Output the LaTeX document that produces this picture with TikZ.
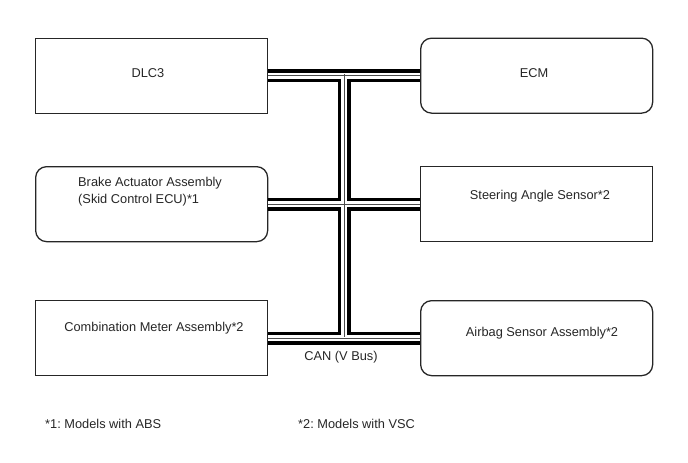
\documentclass[tikz,border=0pt]{standalone}
\usepackage{fontspec}
\setmainfont{Liberation Sans}
\frenchspacing
\begin{document}
\begin{tikzpicture}[x=1pt,y=-1pt,
  box/.style={draw=black!85,line width=1.3pt,minimum width=232pt,minimum height=75pt,inner sep=0pt},
  rbox/.style={box,rounded corners=11pt},
  lbl/.style={font=\fontsize{12.8}{17}\selectfont,text=black!85,inner sep=0pt},
  busout/.style={line width=13pt,black},
  busin/.style={line width=6pt,white},
  busmid/.style={line width=0.7pt,black!70}]
\useasboundingbox (0,0) rectangle (688,463);
\node[box,anchor=north west] (dlc) at (35,37.5) {};
\node[rbox,anchor=north west] (ecm) at (420,37.5) {};
\node[rbox,anchor=north west] (brake) at (35,166) {};
\node[box,anchor=north west] (steer) at (420,166) {};
\node[box,anchor=north west] (comb) at (35,300) {};
\node[rbox,anchor=north west] (air) at (420,300) {};
\node[lbl] (t1) at (148,73) {DLC3};
\node[lbl] (t2) at (534,73) {ECM};
\node[lbl,align=left,anchor=west] (t3) at (78,191.5) {Brake Actuator Assembly\\(Skid Control ECU)*1};
\node[lbl] (t4) at (540,196) {Steering Angle Sensor*2};
\node[lbl] (t5) at (154,328) {Combination Meter Assembly*2};
\node[lbl] (t6) at (542,333) {Airbag Sensor Assembly*2};
\node[lbl] (can) at (341,357) {CAN (V Bus)};
\node[lbl,anchor=west] (n1) at (45,424) {*1: Models with ABS};
\node[lbl,anchor=west] (n2) at (298,424) {*2: Models with VSC};
\coordinate (v1) at (344,74);
\coordinate (v3) at (344,337);
\foreach \s in {busout,busin,busmid}{
  \draw[\s] (dlc.east) -- (ecm.west);
  \draw[\s] (brake.east) -- (steer.west);
  \draw[\s] (comb.east) -- (air.west);
  \draw[\s] (v1) -- (v3);
}
\end{tikzpicture}
\end{document}
